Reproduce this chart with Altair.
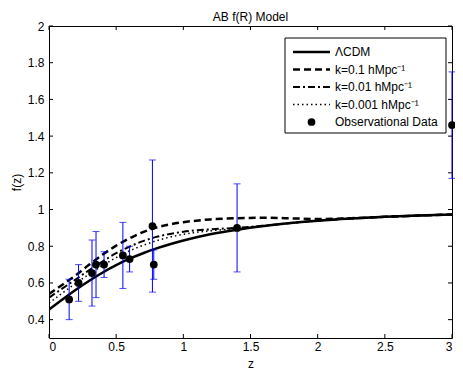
import altair as alt
import pandas as pd

# ---------------- data ----------------
z_grid = [0, 0.1, 0.2, 0.3, 0.4, 0.5, 0.6, 0.7, 0.8, 0.9, 1.0, 1.2, 1.4, 1.6, 1.8, 2.0, 2.25, 2.5, 2.75, 3.0]
f_lcdm = [0.455, 0.510, 0.563, 0.612, 0.657, 0.697, 0.732, 0.762, 0.788, 0.811, 0.831, 0.865, 0.890, 0.910, 0.926, 0.939, 0.951, 0.960, 0.967, 0.973]
f_k01 = [0.540, 0.590, 0.642, 0.700, 0.755, 0.803, 0.843, 0.877, 0.902, 0.919, 0.931, 0.946, 0.953, 0.955, 0.952, 0.948, 0.953, 0.960, 0.967, 0.973]
f_k001 = [0.520, 0.570, 0.620, 0.670, 0.718, 0.762, 0.798, 0.828, 0.851, 0.867, 0.879, 0.892, 0.900, 0.912, 0.926, 0.939, 0.951, 0.960, 0.967, 0.973]
f_k0001 = [0.490, 0.545, 0.598, 0.648, 0.695, 0.738, 0.775, 0.805, 0.830, 0.850, 0.865, 0.884, 0.896, 0.911, 0.926, 0.939, 0.951, 0.960, 0.967, 0.973]

obs_z = [0.15, 0.22, 0.32, 0.35, 0.41, 0.55, 0.60, 0.77, 0.78, 1.4, 3.0]
obs_f = [0.51, 0.60, 0.654, 0.70, 0.70, 0.75, 0.73, 0.91, 0.70, 0.90, 1.46]
obs_err = [0.11, 0.10, 0.18, 0.18, 0.07, 0.18, 0.07, 0.36, 0.08, 0.24, 0.29]

x_ticks = [0, 0.5, 1, 1.5, 2, 2.5, 3]
y_ticks = [0.4, 0.6, 0.8, 1.0, 1.2, 1.4, 1.6, 1.8, 2.0]

legend_labels = ["\u039bCDM", "k=0.1 hMpc\u207b\u00b9", "k=0.01 hMpc\u207b\u00b9",
                 "k=0.001 hMpc\u207b\u00b9", "Observational Data"]

title_text = "AB f(R) Model"
x_title = "z"
y_title = "f(z)"

# ---------------- chart ----------------
FONT = "Liberation Sans"
W, H = 403, 312

xs = alt.Scale(domain=[0, 3], nice=False, zero=False)
ys = alt.Scale(domain=[0.3, 2], nice=False, zero=False)
X_AX = alt.Axis(values=x_ticks, format=".1~f", title=x_title, titleY=29,
                titleBaseline="alphabetic", labelPadding=3)
Y_AX = alt.Axis(values=y_ticks, format=".1~f", title=y_title, titleX=-33,
                titleY=H / 2, titleAngle=-90, titleAlign="center",
                titleBaseline="middle", labelPadding=5)

def X(f):
    return alt.X(f, scale=xs, axis=X_AX)

def Y(f):
    return alt.Y(f, scale=ys, axis=Y_AX)

curves = pd.DataFrame({"z": z_grid, "lcdm": f_lcdm, "k01": f_k01,
                       "k001": f_k001, "k0001": f_k0001})
obs = pd.DataFrame({"z": obs_z, "f": obs_f, "err": obs_err})
obs["lo"] = obs["f"] - obs["err"]
obs["hi"] = obs["f"] + obs["err"]

def curve(col, dash, width):
    kw = dict(color="black", strokeWidth=width, interpolate="monotone", clip=True)
    if dash:
        kw["strokeDash"] = dash
    return alt.Chart(curves).mark_line(**kw).encode(x=X("z:Q"), y=Y(f"{col}:Q"))

c_lcdm = curve("lcdm", None, 2.5)
c_k01 = curve("k01", [7, 4], 2.5)
c_k001 = curve("k001", [7, 3, 2, 3], 2.0)
c_k0001 = curve("k0001", [1.5, 3], 1.5)

bars = alt.Chart(obs).mark_rule(color="#0000ff", strokeWidth=1).encode(
    x=X("z:Q"), y=Y("lo:Q"), y2="hi:Q")
cap_lo = alt.Chart(obs).mark_tick(color="#0000ff", orient="horizontal", size=7, thickness=1).encode(
    x=X("z:Q"), y=Y("lo:Q"))
cap_hi = alt.Chart(obs).mark_tick(color="#0000ff", orient="horizontal", size=7, thickness=1).encode(
    x=X("z:Q"), y=Y("hi:Q"))
pts = alt.Chart(obs).mark_point(filled=True, color="black", size=60, opacity=1).encode(
    x=X("z:Q"), y=Y("f:Q"))

# inward ticks (MATLAB style) on all four sides
xt = pd.DataFrame({"z": x_ticks})
yt = pd.DataFrame({"v": y_ticks})
TL = 4
tk_bottom = alt.Chart(xt).mark_rule(color="black", strokeWidth=1).encode(
    x=X("z:Q"), y=alt.value(H), y2=alt.value(H - TL))
tk_top = alt.Chart(xt).mark_rule(color="black", strokeWidth=1).encode(
    x=X("z:Q"), y=alt.value(0), y2=alt.value(TL))
tk_left = alt.Chart(yt).mark_rule(color="black", strokeWidth=1).encode(
    y=Y("v:Q"), x=alt.value(0), x2=alt.value(TL))
tk_right = alt.Chart(yt).mark_rule(color="black", strokeWidth=1).encode(
    y=Y("v:Q"), x=alt.value(W - TL), x2=alt.value(W))

# title as a text mark above the plot
one = pd.DataFrame({"a": [0]})
ttl = alt.Chart(one).mark_text(align="center", baseline="alphabetic", font=FONT,
                               fontSize=12, color="black").encode(
    x=alt.value(W / 2), y=alt.value(-5), text=alt.value(title_text))

# legend box
LX0, LX1, LY0, LY1 = 236, 397, 12, 107
box = alt.Chart(one).mark_rect(fill="white", stroke="black", strokeWidth=1).encode(
    x=alt.value(LX0), x2=alt.value(LX1), y=alt.value(LY0), y2=alt.value(LY1))
rows = [26, 43.5, 61, 78.5, 96]
styles = [(None, 2.5), ([7, 4], 2.5), ([7, 3, 2, 3], 2.0), ([1.5, 3], 1.5)]
leg = [box]
for i, (dash, w) in enumerate(styles):
    kw = dict(color="black", strokeWidth=w)
    if dash:
        kw["strokeDash"] = dash
    leg.append(alt.Chart(one).mark_rule(**kw).encode(
        x=alt.value(244), x2=alt.value(281), y=alt.value(rows[i])))
leg.append(alt.Chart(one).mark_point(filled=True, color="black", size=60, opacity=1).encode(
    x=alt.value(262.5), y=alt.value(rows[4])))
for i, lab in enumerate(legend_labels):
    leg.append(alt.Chart(one).mark_text(align="left", baseline="middle", font=FONT,
                                        fontSize=12, color="black").encode(
        x=alt.value(286), y=alt.value(rows[i]), text=alt.value(lab)))

chart = alt.layer(
    c_lcdm, c_k01, c_k001, c_k0001, bars, cap_lo, cap_hi, pts,
    tk_bottom, tk_top, tk_left, tk_right, ttl, *leg
).properties(
    width=W, height=H,
    autosize=alt.AutoSizeParams(type="none"),
    padding={"left": 41, "top": 18, "right": 3, "bottom": 32},
).configure_view(
    stroke="black", strokeWidth=1
).configure_axis(
    domain=False, grid=False, ticks=False,
    labelFont=FONT, labelFontSize=12, labelColor="black",
    titleFont=FONT, titleFontSize=12, titleColor="black", titleFontWeight="normal",
)

chart.save("out.html", embed_options={"renderer": "svg", "actions": False})
